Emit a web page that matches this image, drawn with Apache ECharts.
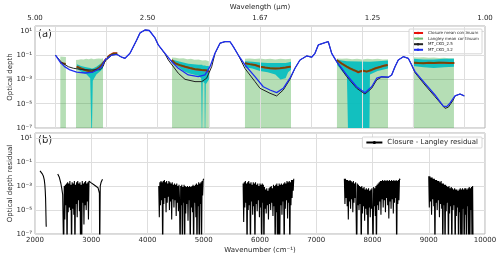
<!DOCTYPE html>
<html><head><meta charset="utf-8">
<script src="https://cdn.jsdelivr.net/npm/echarts@6/dist/echarts.min.js"></script>
<style>html,body{margin:0;padding:0;background:#fff}#c{width:500px;height:259px}</style>
</head><body><div id="c"></div>
<script>
// ---------- DATA (values as log10 of optical depth) ----------
const mtckd32Wn  = [2000,2089,2187,2284,2415,2578,2734,2838,2904,2969,3100,3198,3295,3360,3458,3589,3653,3751,3835,3888,3947,4011,4142,4273,4402,4598,4793,4924,5022,5120,5218,5315,5413,5478,5575,5706,5902,6064,6195,6326,6455,6586,6684,6782,6913,7011,7075,7140,7271,7335,7402,7499,7695,7890,8053,8184,8282,8380,8509,8575,8640,8704,8802,8900,8966,9031,9226,9422,9584,9650,9715,9813,9911,9995];
const mtckd32Log = [-1.0,-1.56,-1.97,-2.22,-2.39,-2.47,-2.39,-2.16,-1.95,-1.40,-0.99,-0.93,-1.17,-1.26,-0.85,0.25,0.83,1.07,1.03,0.74,0.42,-0.16,-0.85,-1.54,-2.08,-2.63,-2.77,-2.63,-1.95,-0.85,-0.02,0.11,0.11,-0.30,-0.99,-1.81,-2.77,-3.60,-3.87,-4.09,-3.73,-2.90,-2.08,-1.40,-1.07,-1.17,-0.85,-0.16,0.03,0.11,-0.85,-1.54,-2.63,-3.60,-4.09,-3.60,-2.90,-2.77,-2.82,-2.63,-1.95,-1.40,-1.13,-1.26,-1.81,-2.36,-3.32,-4.28,-5.19,-5.24,-4.96,-4.36,-4.20,-4.36];

const mtckd25Wn  = [2000,2120,2250,2350,2500,2675,2870,2930,2969,3100,3198,3295,3360,3458,3589,3653,3751,3835,3888,3947,4011,4142,4207,4402,4533,4729,4860,4957,5055,5120,5218,5315,5413,5478,5575,5706,5902,6000,6195,6326,6455,6586,6684,6782,6913,7011,7075,7140,7271,7335,7402,7499,7695,7890,8053,8184,8282,8380,8509,8575,8640,8704,8802,8900,8966,9031,9226,9422,9618,9682,9780,9813,9911,9995];
const mtckd25Log = [-1.0,-1.6,-1.95,-2.08,-2.18,-2.22,-2.2,-1.95,-1.5,-1.0,-0.93,-1.17,-1.26,-0.85,0.25,0.83,1.07,1.03,0.74,0.42,-0.16,-0.9,-1.4,-2.49,-2.99,-3.18,-3.18,-2.9,-1.95,-0.85,-0.02,0.11,0.11,-0.30,-0.99,-2.1,-3.18,-3.73,-4.14,-4.36,-3.87,-2.99,-2.08,-1.40,-1.07,-1.17,-0.85,-0.16,0.03,0.11,-0.85,-1.54,-2.77,-3.73,-4.2,-3.73,-3.04,-2.8,-2.82,-2.63,-1.95,-1.40,-1.13,-1.26,-1.81,-2.44,-3.46,-4.42,-5.38,-5.29,-4.69,-4.36,-4.2,-4.36];

// mean continuum per window (closure / Langley)
const contWn = [
  [2100,2150,2200],
  [2415,2500,2578,2650,2709,2760,2807,2860,2904,2950,3002,3060,3131,3209],
  [4273,4338,4430,4533,4630,4729,4860,4957,4995],
  [5706,5800,5902,6000,6100,6195,6300,6391,6500,6586,6600],
  [7499,7600,7695,7760,7824,7870,7922,7970,8020,8086,8184,8260,8346,8420,8497],
  [9000,9100,9200,9300,9400,9500,9600,9700,9800]
];
const closureLog = [
  [-1.62,-1.68,-1.72],
  [-1.95,-2.1,-2.22,-2.3,-2.36,-2.28,-2.16,-2.0,-1.81,-1.55,-1.26,-1.02,-0.85,-0.85],
  [-1.40,-1.67,-1.82,-1.95,-2.06,-2.16,-2.22,-2.26,-2.38],
  [-1.67,-1.74,-1.81,-1.95,-2.02,-2.08,-2.1,-2.08,-2.02,-1.95,-1.95],
  [-1.40,-1.7,-1.95,-2.1,-2.22,-2.3,-2.41,-2.33,-2.28,-2.36,-2.22,-2.08,-1.97,-1.88,-1.81],
  [-1.62,-1.65,-1.66,-1.63,-1.64,-1.62,-1.62,-1.65,-1.64]
];
const langleyLog = [
  [-1.63,-1.68,-1.73],
  [-1.96,-2.1,-2.23,-2.3,-2.37,-2.27,-2.16,-2.0,-1.82,-1.55,-1.27,-1.02,-0.86,-0.85],
  [-1.41,-1.66,-1.82,-1.94,-2.06,-2.15,-2.21,-2.25,-2.3],
  [-1.67,-1.75,-1.81,-1.94,-2.02,-2.07,-2.1,-2.08,-2.02,-1.95,-1.95],
  [-1.41,-1.7,-1.94,-2.08,-2.2,-2.28,-2.38,-2.32,-2.27,-2.34,-2.21,-2.08,-1.97,-1.88,-1.82],
  [-1.62,-1.64,-1.66,-1.63,-1.64,-1.62,-1.63,-1.65,-1.64]
];

// Langley uncertainty bands (upper edge; lower edge non-positive -> axis floor)
const langleyBandWn = [
  [2095,2205],
  [2402,2450,2500,2550,2600,2650,2700,2750,2800,2850,2900,2930],
  [4280,4350,4420,4500,4580,4650,4720,4800,4870,4940,5000],
  [5706,5800,5900,6000,6100,6200,6300,6400,6500,6606],
  [7505,7600,7700,7800,7900,8000,8100,8200,8300,8400,8503],
  [8991,9100,9200,9300,9400,9500,9600,9700,9793]
];
const langleyBandHi = [
  [-1.12,-1.15],
  [-1.4,-1.38,-1.33,-1.36,-1.3,-1.34,-1.28,-1.33,-1.3,-1.27,-1.3,-1.25],
  [-1.2,-1.22,-1.28,-1.25,-1.33,-1.3,-1.38,-1.35,-1.45,-1.42,-1.5],
  [-1.3,-1.27,-1.32,-1.28,-1.34,-1.3,-1.35,-1.3,-1.33,-1.3],
  [-1.28,-1.3,-1.27,-1.33,-1.3,-1.35,-1.3,-1.34,-1.3,-1.36,-1.33],
  [-1.17,-1.2,-1.18,-1.22,-1.2,-1.24,-1.22,-1.25,-1.26]
];
// Closure uncertainty bands (upper / lower, -7 = reaches floor)
const closureBandWn = [
  [2420,2500,2600,2680,2700,2715,2730,2800,2880,2930],
  [4280,4400,4500,4600,4700,4800,4850,4860,4870,4880,4915,4920,4930,4940,5000],
  [5706,5850,6000,6150,6300,6400,6500,6550,6606],
  [7505,7600,7700,7720,8140,8150,8300,8503],
  [8991,9200,9400,9600,9793]
];
const closureBandHi = [
  [-1.75,-1.9,-2.0,-2.05,-2.1,-2.1,-2.1,-1.95,-1.7,-1.5],
  [-1.35,-1.5,-1.6,-1.7,-1.75,-1.8,-1.8,-1.8,-1.8,-1.85,-1.85,-1.85,-1.85,-1.9,-1.9],
  [-1.5,-1.55,-1.6,-1.65,-1.65,-1.65,-1.65,-1.6,-1.55],
  [-1.35,-1.45,-1.5,-1.5,-1.55,-1.55,-1.5,-1.45],
  [-1.3,-1.35,-1.35,-1.3,-1.3]
];
const closureBandLo = [
  [-2.1,-2.35,-2.55,-2.9,-7,-7,-3.1,-2.6,-2.3,-2.1],
  [-1.6,-1.95,-2.3,-2.5,-2.6,-2.7,-2.9,-7,-7,-3.2,-3.3,-7,-7,-3.4,-3.0],
  [-2.0,-2.1,-2.3,-2.4,-2.6,-3.0,-2.9,-2.4,-2.2],
  [-1.8,-2.3,-2.8,-7,-7,-2.6,-2.3,-2.1],
  [-1.9,-2.0,-2.05,-2.0,-1.95]
];

// Closure - Langley residual (log10); irregular parts with explicit wavenumbers
const resAWn  = [2089,2110,2130,2150,2165,2175,2182,2188,2192,2195,2198,2200];
const resALog = [-1.75,-1.85,-2.0,-2.2,-2.5,-2.9,-3.4,-4.0,-4.8,-5.5,-6.2,-6.4];
const resB0Wn  = [2404,2430,2444,2460,2475,2492];
const resB0Log = [-2.01,-2.25,-2.49,-2.8,-3.18,-3.73];
// sampled every 10 cm-1 from the start wavenumber
const resBStart = 2500;
const resBLog = [-3.6,-9,-3.0,-5.8,-2.9,-4.6,-2.8,-9,-2.7,-5.2,-2.8,-4.8,-2.6,-5.0,-2.9,-9,-2.7,-4.9,-2.8,-5.4,-2.6,-9,-2.9,-4.5,-2.7,-5.6,-2.6,-4.2,-2.8,-5.1,-2.7,-9,-2.9,-9,-2.6,-4.4,-2.8,-6.2,-2.7,-4.6,-2.6,-5.0,-2.8,-4.3,-2.7,-5.8,-2.6,-2.7];
const resCWn  = [2975,3000,3030,3060,3090,3120,3135,3145,3150,3155,3160,3175,3200];
const resCLog = [-2.65,-2.75,-2.85,-2.95,-3.05,-3.15,-3.25,-3.6,-9,-9,-3.0,-2.7,-2.45];
const resDStart = 4200;
const resDLog = [-3.0,-5.6,-2.7,-4.6,-2.6,-4.2,-2.7,-9,-2.6,-4.5,-2.5,-4.0,-2.7,-5.2,-2.6,-4.4,-2.8,-3.9,-2.6,-5.0,-2.7,-4.3,-2.8,-5.8,-2.7,-4.1,-2.9,-4.8,-2.8,-4.2,-2.9,-5.5,-2.8,-4.4,-3.0,-5.1,-2.9,-4.3,-9,-3.0,-4.6,-2.9,-9,-3.1,-4.4,-2.9,-9,-3.0,-5.3,-3.1,-4.5,-3.0,-5.9,-3.1,-4.2,-3.0,-9,-3.1,-4.8,-3.0,-5.2,-2.9,-9,-3.0,-4.4,-2.9,-5.6,-2.8,-9,-2.9,-4.7,-2.7,-9,-2.8,-4.5,-2.7,-9,-2.6,-3.8,-2.5,-2.4];
const resEStart = 5700;
const resELog = [-2.8,-6.0,-2.7,-4.8,-2.6,-4.4,-2.8,-9,-2.7,-5.0,-2.6,-4.6,-2.8,-9,-2.7,-4.3,-2.9,-5.4,-2.7,-4.7,-2.8,-9,-2.7,-4.5,-2.9,-5.1,-2.8,-4.2,-3.0,-5.6,-2.8,-4.8,-2.9,-9,-2.8,-4.4,-2.9,-9,-3.1,-4.9,-3.3,-5.3,-3.2,-4.6,-3.4,-5.8,-3.2,-4.5,-3.1,-5.0,-3.0,-4.4,-3.2,-5.5,-2.9,-4.7,-3.0,-9,-2.9,-5.2,-2.8,-9,-3.0,-9,-2.8,-9,-2.9,-4.6,-2.8,-5.4,-2.9,-4.3,-2.8,-9,-2.7,-4.9,-2.8,-4.2,-2.6,-5.7,-2.7,-4.4,-2.6,-9,-2.7,-4.6,-2.5,-4.0,-2.5,-3.4,-2.4];
const resFStart = 7500;
const resFLog = [-2.4,-4.5,-2.4,-4.0,-2.5,-4.7,-2.5,-5.8,-2.6,-4.3,-2.5,-4.9,-2.6,-4.1,-2.7,-5.2,-2.6,-4.4,-2.8,-4.0,-2.7,-5.6,-9,-2.8,-4.6,-2.9,-5.0,-3.0,-4.5,-3.1,-9,-3.0,-5.3,-3.2,-4.7,-3.1,-5.9,-3.3,-4.9,-3.2,-5.4,-3.3,-9,-3.2,-4.8,-3.4,-5.6,-3.3,-4.9,-3.2,-5.3,-9,-3.1,-4.7,-3.2,-5.5,-3.0,-9,-2.9,-4.6,-2.8,-5.0,-2.7,-4.3,-2.6,-5.4,-2.6,-4.1,-2.5,-4.8,-2.6,-4.2,-2.5,-5.2,-2.6,-4.0,-2.5,-4.6,-2.6,-5.7,-2.5,-4.3,-2.6,-4.9,-2.5,-4.1,-2.6,-5.3,-2.5,-4.4,-2.6,-4.0,-2.5,-9,-2.6,-4.5,-2.5,-4.2,-2.4,-2.5];
const resGStart = 9000;
const resGLog = [-2.2,-4.8,-2.2,-4.3,-2.3,-5.4,-2.3,-4.1,-2.4,-4.7,-2.4,-9,-2.5,-4.4,-2.5,-5.0,-2.6,-4.2,-2.6,-5.6,-2.7,-4.5,-2.6,-4.9,-2.8,-9,-2.8,-4.6,-2.9,-9,-2.9,-5.1,-3.0,-4.4,-3.1,-9,-3.0,-5.3,-3.2,-4.7,-3.1,-9,-3.2,-5.0,-3.3,-4.6,-3.2,-9,-3.3,-5.5,-3.3,-4.8,-3.4,-9,-3.3,-5.2,-3.2,-9,-3.3,-9,-3.2,-4.9,-3.3,-9,-3.2,-5.4,-3.2,-9,-3.3,-4.7,-3.2,-9,-3.1,-9,-3.2,-5.0,-3.1,-9,-3.0,-9];
const resStep = 10;

// axis ticks
const topTickWn = [2000,3000,4000,5000,6000,7000,8000,9000,10000];

// ---------- BUILD ----------
const P = v => Math.pow(10, v);
const pairs = (wn, lg) => wn.map((w, i) => [w, P(lg[i])]);
const regular = (start, lg) => lg.map((v, i) => [start + i * resStep, P(v)]);
const gap = w => [w, '-'];
function segs(wnList, lgList) {
  const out = [];
  wnList.forEach((wn, k) => { out.push(...pairs(wn, lgList[k])); out.push(gap(wn[wn.length - 1] + 1)); });
  return out;
}
const residual = [].concat(
  pairs(resAWn, resALog), [gap(2300)],
  pairs(resB0Wn, resB0Log), regular(resBStart, resBLog), pairs(resCWn, resCLog), [gap(3500)],
  regular(resDStart, resDLog), [gap(5300)],
  regular(resEStart, resELog), [gap(7000)],
  regular(resFStart, resFLog), [gap(8700)],
  regular(resGStart, resGLog)
);

const Y_MIN = 1e-7, Y_MAX = Math.pow(10, 1.4);
const supMap = {'-':'⁻','0':'⁰','1':'¹','2':'²','3':'³','4':'⁴','5':'⁵','6':'⁶','7':'⁷','8':'⁸','9':'⁹'};
function logLabel(v) {
  const e = Math.log10(v), r = Math.round(e);
  if (Math.abs(e - r) > 1e-6) return '';
  return '10' + String(r).split('').map(c => supMap[c]).join('');
}

function bandSeries(name, wnL, hiL, loL, color, opacity, z) {
  return {
    type: 'custom', name, xAxisIndex: 0, yAxisIndex: 0, z, silent: true, clip: true,
    data: wnL.map((w, i) => [w[0], 1e-3, i]),
    renderItem: (params, api) => {
      const i = api.value(2);
      const wn = wnL[i], hi = hiL[i], lo = loL ? loL[i] : null;
      const pts = [];
      for (let k = 0; k < wn.length; k++) pts.push(api.coord([wn[k], P(hi[k])]));
      for (let k = wn.length - 1; k >= 0; k--) pts.push(api.coord([wn[k], lo ? P(lo[k]) : Y_MIN]));
      return { type: 'polygon', shape: { points: pts }, style: { fill: color, opacity } };
    }
  };
}

const FONT = 'DejaVu Sans';
const TXT = '#262626';
const GRIDC = '#dedede';
const FRAME = '#b3b3b3';

const chart = echarts.init(document.getElementById('c'), null, { renderer: 'canvas' });
chart.setOption({
  animation: false,
  backgroundColor: '#fff',
  textStyle: { fontFamily: FONT, color: TXT },
  grid: [
    { left: 35, right: 15, top: 26, height: 102, show: true, borderColor: FRAME, borderWidth: 1, containLabel: false, outerBoundsMode: 'none' },
    { left: 35, right: 15, top: 133, height: 101, show: true, borderColor: FRAME, borderWidth: 1, containLabel: false, outerBoundsMode: 'none' }
  ],
  xAxis: [
    { gridIndex: 0, type: 'value', min: 1600, max: 10400, axisLabel: { show: false }, axisTick: { show: false }, axisLine: { show: false }, splitLine: { show: false } },
    { gridIndex: 0, type: 'value', position: 'top', min: 2000, max: 10000, interval: 2000,
      axisLabel: { fontSize: 7, color: TXT, margin: 4, formatter: v => (10000 / v).toFixed(2) },
      axisTick: { show: false }, axisLine: { show: false }, splitLine: { show: false },
      name: 'Wavelength (μm)', nameLocation: 'middle', nameGap: 15, nameMoveOverlap: false, nameTextStyle: { fontSize: 7, color: TXT } },
    { gridIndex: 1, type: 'value', min: 2000, max: 10000, interval: 1000,
      axisLabel: { fontSize: 7, color: TXT, margin: 3, formatter: v => String(v) },
      axisTick: { show: false }, axisLine: { show: false },
      splitLine: { show: true, lineStyle: { color: GRIDC, width: 1 } },
      name: 'Wavenumber (cm⁻¹)', nameLocation: 'middle', nameGap: 13, nameMoveOverlap: false, nameTextStyle: { fontSize: 7, color: TXT } }
  ],
  yAxis: [
    { gridIndex: 0, type: 'log', logBase: 10, min: Y_MIN, max: Y_MAX, interval: 2,
      axisLabel: { fontSize: 7, color: TXT, margin: 3, formatter: logLabel },
      axisTick: { show: false }, axisLine: { show: false },
      splitLine: { show: true, lineStyle: { color: GRIDC, width: 1 } }, minorTick: { show: false },
      name: 'Optical depth', nameLocation: 'middle', nameGap: 21, nameMoveOverlap: false, nameTextStyle: { fontSize: 7, color: TXT } },
    { gridIndex: 1, type: 'log', logBase: 10, min: Y_MIN, max: Y_MAX, interval: 2,
      axisLabel: { fontSize: 7, color: TXT, margin: 3, formatter: logLabel },
      axisTick: { show: false }, axisLine: { show: false },
      splitLine: { show: true, lineStyle: { color: GRIDC, width: 1 } },
      name: 'Optical depth residual', nameLocation: 'middle', nameGap: 21, nameMoveOverlap: false, nameTextStyle: { fontSize: 7, color: TXT } }
  ],
  legend: [
    { data: ['Closure mean continuum', 'Langley mean continuum', 'MT_CKD_2.5', 'MT_CKD_3.2'],
      orient: 'vertical', right: 18, top: 29, itemWidth: 10, itemHeight: 3, itemGap: 1.6,
      padding: [2, 3, 2, 3], borderColor: '#cccccc', borderWidth: 0.8, borderRadius: 1,
      backgroundColor: 'rgba(255,255,255,0.85)', textStyle: { fontSize: 4, color: TXT }, selectedMode: false },
    { data: ['Closure - Langley residual'], right: 18, top: 137, itemWidth: 16, itemHeight: 4,
      padding: [2, 4, 2, 3], borderColor: '#cccccc', borderWidth: 0.8, borderRadius: 1,
      backgroundColor: 'rgba(255,255,255,0.9)', textStyle: { fontSize: 7, color: TXT }, selectedMode: false }
  ],
  graphic: [
    { type: 'text', left: 38, top: 29, style: { text: '(a)', fontSize: 10, fill: TXT, fontFamily: FONT } },
    { type: 'text', left: 38, top: 135, style: { text: '(b)', fontSize: 10, fill: TXT, fontFamily: FONT } }
  ],
  series: [
    { type: 'line', name: 'grid', xAxisIndex: 0, yAxisIndex: 0, z: 0, silent: true, symbol: 'none',
      data: [[2000, 1e-3]], lineStyle: { opacity: 0 },
      markLine: { silent: true, symbol: 'none', label: { show: false }, animation: false,
        lineStyle: { color: GRIDC, width: 1, type: 'solid' },
        data: topTickWn.map(w => ({ xAxis: w })) } },
    bandSeries('Langley band', langleyBandWn, langleyBandHi, null, '#2ca02c', 0.35, 1),
    bandSeries('Closure band', closureBandWn, closureBandHi, closureBandLo, '#00bcc0', 0.9, 2),
    { type: 'line', name: 'Closure mean continuum', xAxisIndex: 0, yAxisIndex: 0, z: 3, symbol: 'none',
      color: '#e8120c', lineStyle: { width: 2, color: '#e8120c' }, data: segs(contWn, closureLog) },
    { type: 'line', name: 'Langley mean continuum', xAxisIndex: 0, yAxisIndex: 0, z: 4, symbol: 'none',
      color: '#7cc47c', lineStyle: { width: 1.6, color: 'rgba(0,128,0,0.55)' }, data: segs(contWn, langleyLog) },
    { type: 'line', name: 'MT_CKD_2.5', xAxisIndex: 0, yAxisIndex: 0, z: 5, symbol: 'none',
      color: '#222', lineStyle: { width: 1, color: '#222' }, data: pairs(mtckd25Wn, mtckd25Log) },
    { type: 'line', name: 'MT_CKD_3.2', xAxisIndex: 0, yAxisIndex: 0, z: 6, symbol: 'none',
      color: '#1f2ff0', lineStyle: { width: 1.3, color: '#1f2ff0' }, data: pairs(mtckd32Wn, mtckd32Log) },
    { type: 'line', name: 'Closure - Langley residual', xAxisIndex: 2, yAxisIndex: 1, z: 3, symbol: 'none',
      color: '#000', lineStyle: { width: 1.1, color: '#000' }, data: residual }
  ]
});
</script></body></html>
